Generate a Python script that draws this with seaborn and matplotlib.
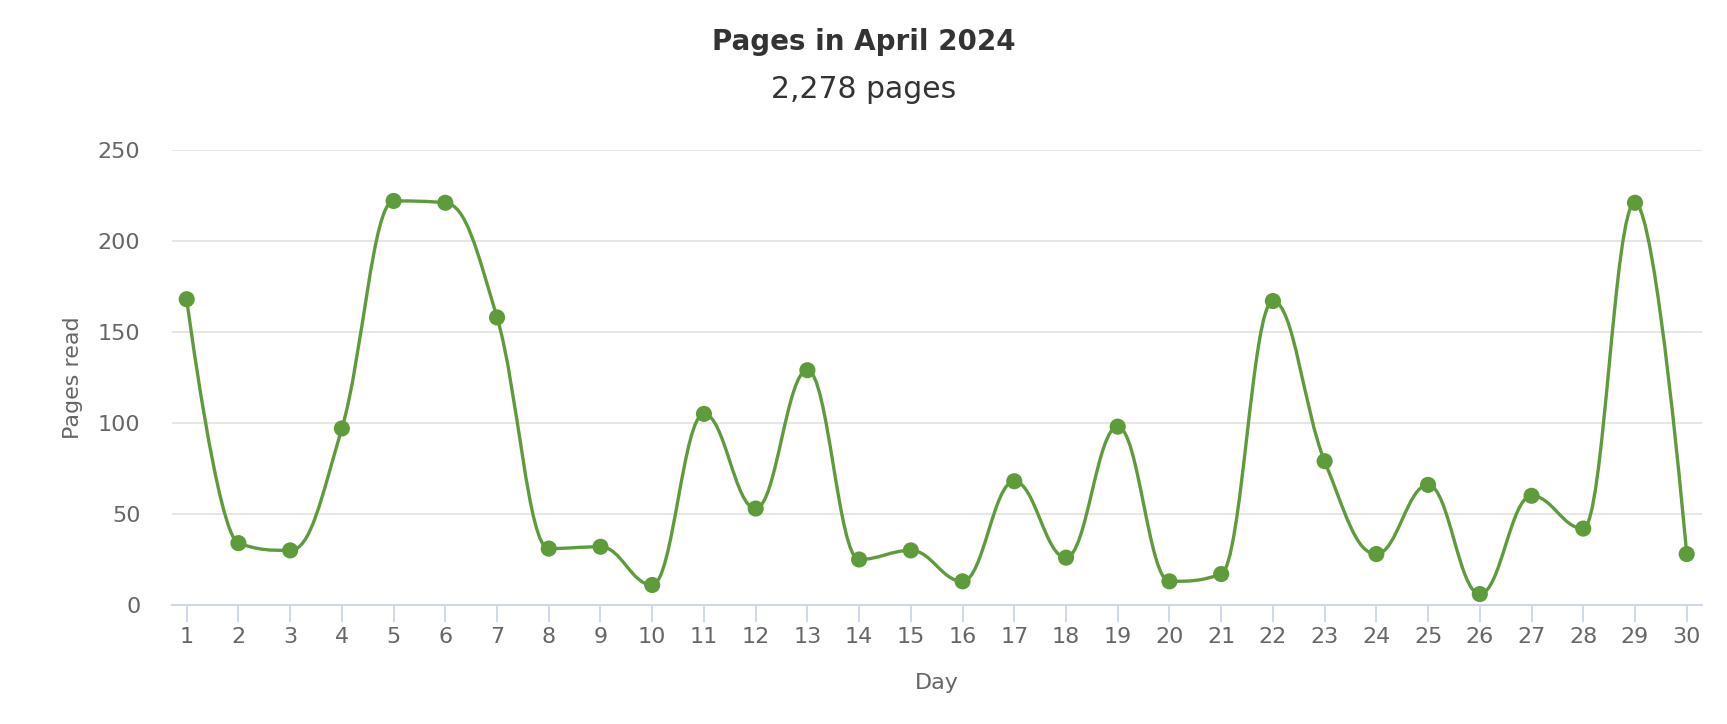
import numpy as np
import pandas as pd
import matplotlib
matplotlib.use("Agg")
import matplotlib.pyplot as plt
from matplotlib.path import Path
from matplotlib.patches import PathPatch
import seaborn as sns

# ---- data ----
days = list(range(1, 31))
pages = [168, 34, 30, 97, 222, 221, 158, 31, 32, 11,
         105, 53, 129, 25, 30, 13, 68, 26, 98, 13,
         17, 167, 79, 28, 66, 6, 60, 42, 221, 28]
y_ticks = [0, 50, 100, 150, 200, 250]
title = "Pages in April 2024"
subtitle = "2,278 pages"
x_label = "Day"
y_label = "Pages read"

GREEN = "#5E9C3B"
FONT = ["DejaVu Sans"]

sns.set_theme(style="white")
plt.rcParams["font.family"] = FONT

df = pd.DataFrame({"day": days, "pages": pages})

W, H = 1727, 724
L, R, T, B = 171.7, 1701.7, 150, 605
fig = plt.figure(figsize=(W / 100, H / 100), dpi=100)
ax = fig.add_axes([L / W, 1 - B / H, (R - L) / W, (B - T) / H])


def spline_path(xs, ys, smoothing=1.5):
    """Highcharts-style spline control points, built from the data."""
    n = len(xs)
    denom = smoothing + 1
    lc = [None] * n
    rc = [None] * n
    for i in range(1, n - 1):
        px, py = xs[i], ys[i]
        lx, ly = xs[i - 1], ys[i - 1]
        nx, ny = xs[i + 1], ys[i + 1]
        lcx = (smoothing * px + lx) / denom
        lcy = (smoothing * py + ly) / denom
        rcx = (smoothing * px + nx) / denom
        rcy = (smoothing * py + ny) / denom
        if rcx != lcx:
            corr = ((rcy - lcy) * (rcx - px)) / (rcx - lcx) + py - rcy
            lcy += corr
            rcy += corr
        if lcy > ly and lcy > py:
            lcy = max(ly, py)
            rcy = 2 * py - lcy
        elif lcy < ly and lcy < py:
            lcy = min(ly, py)
            rcy = 2 * py - lcy
        if rcy > ny and rcy > py:
            rcy = max(ny, py)
            lcy = 2 * py - rcy
        elif rcy < ny and rcy < py:
            rcy = min(ny, py)
            lcy = 2 * py - rcy
        lc[i] = (lcx, lcy)
        rc[i] = (rcx, rcy)
    verts = [(xs[0], ys[0])]
    codes = [Path.MOVETO]
    for i in range(1, n):
        c1 = rc[i - 1] if rc[i - 1] is not None else (xs[i - 1], ys[i - 1])
        c2 = lc[i] if lc[i] is not None else (xs[i], ys[i])
        verts += [c1, c2, (xs[i], ys[i])]
        codes += [Path.CURVE4] * 3
    return Path(verts, codes)


# gridlines
for t in y_ticks[1:]:
    ax.axhline(t, color="#e6e6e6", lw=1.4, zorder=0)

ax.add_patch(PathPatch(spline_path(days, pages), facecolor="none",
                       edgecolor=GREEN, lw=2.4, zorder=2, capstyle="round",
                       joinstyle="round"))
sns.scatterplot(data=df, x="day", y="pages", ax=ax, color=GREEN, s=135,
                edgecolor="none", linewidth=0, zorder=3, legend=False)

ax.set_xlim(0.71, 30.29)
ax.set_ylim(0, 250)
ax.set_xticks(days)
ax.set_xticklabels([str(d) for d in days])
ax.set_yticks(y_ticks)
ax.set_yticklabels([str(t) for t in y_ticks])

for s in ["top", "right", "left"]:
    ax.spines[s].set_visible(False)
ax.spines["bottom"].set_color("#ccd6eb")
ax.spines["bottom"].set_linewidth(1.4)
ax.spines["bottom"].set_zorder(4)

ax.tick_params(axis="x", length=12.5, width=1.3, color="#ccd6eb",
               labelsize=16, labelcolor="#666666", pad=3.0, direction="out", bottom=True)
ax.tick_params(axis="y", length=0, labelsize=16, labelcolor="#666666", pad=22.5)

ax.set_xlabel(x_label, fontsize=16, color="#666666")
ax.set_ylabel(y_label, fontsize=16, color="#666666")
ax.xaxis.set_label_coords(0.5, (B - 683) / (B - T))
ax.yaxis.set_label_coords((73.3 - L) / (R - L), 0.5)
ax.xaxis.label.set_va("center")
ax.yaxis.label.set_va("center")

fig.text(0.5, 1 - 42 / H, title, ha="center", va="center", fontsize=20,
         fontweight="bold", color="#333333")
fig.text(0.5, 1 - 89 / H, subtitle, ha="center", va="center", fontsize=21.5,
         color="#333333")

fig.savefig("out.png", dpi=100, facecolor="white")
